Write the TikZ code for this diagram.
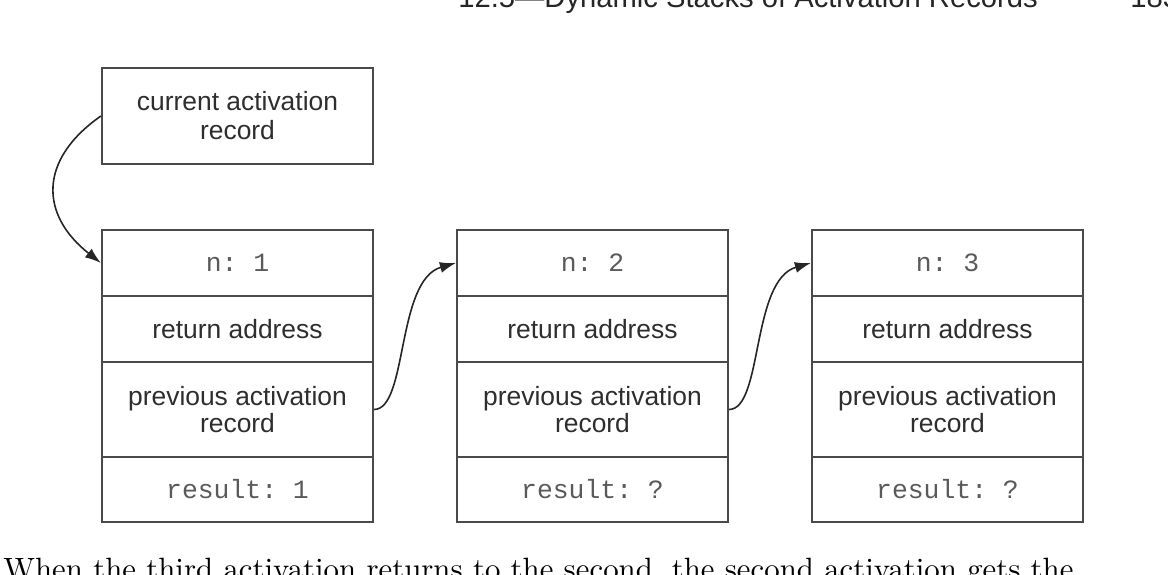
\documentclass[tikz,border=0pt]{standalone}
\usepackage{fontspec}
\usetikzlibrary{arrows.meta}
\newfontfamily\hvfont{Liberation Sans}
\newfontfamily\crfont{Liberation Mono}
\definecolor{boxline}{HTML}{4A4A4A}
\definecolor{txt}{HTML}{2E2E2E}
\definecolor{codetxt}{HTML}{5A5A5A}
\begin{document}
\begin{tikzpicture}[x=0.5pt,y=-0.5pt,
  cell/.style={draw=boxline, line width=1.1pt, rectangle, inner sep=0pt,
    minimum width=135.5pt, text=txt, align=center},
  lbl/.style={cell, font=\hvfont\fontsize{13.2}{13.6}\selectfont},
  code/.style={cell, text=codetxt, font=\crfont\fontsize{13.2}{13.6}\selectfont},
  link/.style={draw=black!85, line width=0.8pt, -{Latex[length=8pt,width=5.5pt]}}]
\useasboundingbox (0,0) rectangle (1168,574);
\clip (0,0) rectangle (1168,574);
\fill[white] (0,0) rectangle (1168,574);
% header and running text
\node[anchor=base west, inner sep=0pt, text=black!85, font=\hvfont\fontsize{14.6}{16}\selectfont] (head) at (458,7) {12.5—Dynamic Stacks of Activation Records};
\node[anchor=base west, inner sep=0pt, text=black!85, font=\hvfont\fontsize{14.6}{16}\selectfont] (page) at (1130,7) {183};
\node[anchor=base west, inner sep=0pt, text=black] (para) at (3,579) {\resizebox{535pt}{!}{When the third activation returns to the second, the second activation gets the}};
% current activation record
\node[lbl, minimum height=48pt, font=\hvfont\fontsize{13.2}{14.5}\selectfont] (cur) at (237.5,116) {current activation\\record};
% activation records
\foreach \i/\cx/\res in {1/237.5/1, 2/592.5/?, 3/947.5/?}{
  \node[code, minimum height=33pt] (n\i) at (\cx,263) {n:\ \i};
  \node[lbl, minimum height=33pt] (ra\i) at (\cx,329) {return address};
  \node[lbl, minimum height=47.5pt] (p\i) at (\cx,409.5) {previous activation\\record};
  \node[code, minimum height=32.5pt] (r\i) at (\cx,489.5) {result:\ \res};
}
% links
\draw[link] (cur.west) .. controls (38,160) and (40,215) .. (n1.west);
\draw[link] (p1.east) .. controls (408,409) and (396,280) .. (n2.west);
\draw[link] (p2.east) .. controls (763,409) and (751,280) .. (n3.west);
\end{tikzpicture}
\end{document}
